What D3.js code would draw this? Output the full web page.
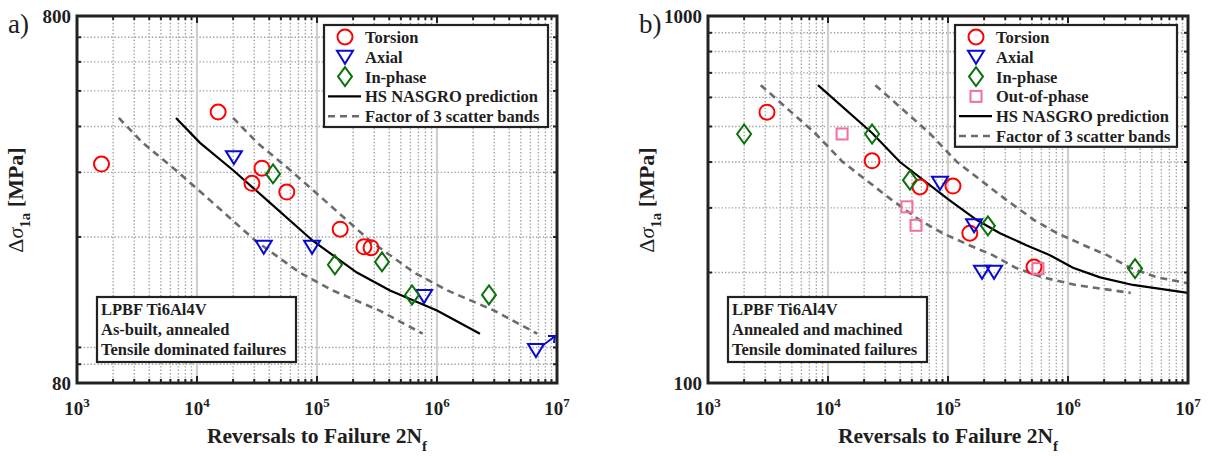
<!DOCTYPE html>
<html>
<head>
<meta charset="utf-8">
<script src="https://cdn.jsdelivr.net/npm/d3@7"></script>
<style>
body{margin:0;background:#fff}
text{font-family:"Liberation Serif","Times New Roman",serif;font-weight:bold;fill:#1e1e1e}
</style>
</head>
<body>
<svg id="chart" width="1214" height="456"></svg>
<script>
// ---- panel a) as-built, annealed ----
var aTorsionN=[1600,15000,28700,34800,56000,156000,246000,282000]
var aTorsionS=[316,438,280,308,265,210,188,187]
var aAxialN=[20300,36000,91000,780000,6680000]
var aAxialS=[330,188,188,138,98.4]
var aInphaseN=[43000,141000,348000,619000,2710000]
var aInphaseS=[297,168,171,139,139]
var aNasgroN=[6680,10600,20000,38300,92700,215000,406000,1000000,2280000]
var aNasgroS=[422,361,304,252,195,160,143,126,109]
var aBandLoN=[2230,3530,6670,12800,30900,71700,135000,333000,760000]
var aBandHiN=[20000,31800,60000,115000,278000,645000,1220000,3000000,6840000]
var aYTicks=[80,800]
var aNote=["LPBF Ti6Al4V","As-built, annealed","Tensile dominated failures"]

// ---- panel b) annealed and machined ----
var bTorsionN=[3100,23300,58400,110000,152000,521000]
var bTorsionS=[547,403,342,344,256,207]
var bAxialN=[85800,165000,192000,242000]
var bAxialS=[351,269,201,201]
var bInphaseN=[2000,23300,48200,215000,3620000]
var bInphaseS=[477,477,357,268,205]
var bOutphaseN=[13100,45500,54100,562000]
var bOutphaseS=[477,302,269,205]
var bNasgroN=[8250,23300,39800,100000,174000,271000,455000,708000,1100000,1850000,3480000,10000000]
var bNasgroS=[648,480,400,317,278,256,237,223,206,194,185,176]
var bBandLoN=[2750,7770,13300,33300,58000,90300,152000,236000,367000,617000,1160000,3330000]
var bBandHiN=[24800,69900,119000,300000,522000,813000,1370000,2120000,3300000,5550000,10000000]
var bBandHiS=[648,480,400,317,278,256,237,223,206,194,187]
var bYTicks=[100,1000]
var bNote=["LPBF Ti6Al4V","Annealed and machined","Tensile dominated failures"]

var xExp=[3,4,5,6,7]
var seriesNames=["Torsion","Axial","In-phase","Out-of-phase","HS NASGRO prediction","Factor of 3 scatter bands"]

var RED="#ff0000",BLUE="#0a0ad0",GREEN="#0b720b",PINK="#f26fa3"

var svg=d3.select("#chart")

function zip(n,s){return n.map((v,i)=>({n:v,s:s[i]}))}

function marker(g,type,color){
  if(type=="circle") g.append("circle").attr("r",7.5)
  else if(type=="tri") g.append("path").attr("d","M-8,-6L8,-6L0,7Z")
  else if(type=="dia") g.append("path").attr("d","M0,-9.5L7,0L0,9.5L-7,0Z")
  else if(type=="sq") g.append("rect").attr("x",-5.5).attr("y",-5.5).attr("width",11).attr("height",11)
  g.selectAll("*").attr("fill","none").attr("stroke",color).attr("stroke-width",2)
}

function panel(o){
  var x=d3.scaleLog().domain([1e3,1e7]).range([o.x0,o.x1])
  var y=d3.scaleLog().domain(o.ydom).range([o.y1,o.y0])
  var g=svg.append("g")
  var clipId="clip"+o.tag
  g.append("clipPath").attr("id",clipId).append("rect")
    .attr("x",o.x0).attr("y",o.y0).attr("width",o.x1-o.x0).attr("height",o.y1-o.y0)

  // grid
  var xt=x.ticks().filter(v=>v>1e3&&v<1e7)
  var major=xt.filter(v=>Math.abs(Math.log10(v)-Math.round(Math.log10(v)))<1e-9)
  var minor=xt.filter(v=>major.indexOf(v)<0)
  var yt=y.ticks().filter(v=>v>o.ydom[0]&&v<o.ydom[1])
  g.selectAll(".gx").data(minor).enter().append("line")
    .attr("x1",d=>x(d)).attr("x2",d=>x(d)).attr("y1",o.y0).attr("y2",o.y1)
    .attr("stroke","#a2a2a2").attr("stroke-width",1.4).attr("stroke-dasharray","1.4,2")
  g.selectAll(".gy").data(yt).enter().append("line")
    .attr("y1",d=>y(d)).attr("y2",d=>y(d)).attr("x1",o.x0).attr("x2",o.x1)
    .attr("stroke","#a2a2a2").attr("stroke-width",1.4).attr("stroke-dasharray","1.4,2")
  g.selectAll(".gm").data(major).enter().append("line")
    .attr("x1",d=>x(d)).attr("x2",d=>x(d)).attr("y1",o.y0).attr("y2",o.y1)
    .attr("stroke","#cfcfcf").attr("stroke-width",2.2)

  // ticks (inward)
  var tk=g.append("g").attr("stroke","#222").attr("stroke-width",2)
  xt.forEach(function(v){
    var L=major.indexOf(v)>=0?7:4
    tk.append("line").attr("x1",x(v)).attr("x2",x(v)).attr("y1",o.y1).attr("y2",o.y1-L)
    tk.append("line").attr("x1",x(v)).attr("x2",x(v)).attr("y1",o.y0).attr("y2",o.y0+L)
  })
  yt.forEach(function(v){
    tk.append("line").attr("y1",y(v)).attr("y2",y(v)).attr("x1",o.x0).attr("x2",o.x0+4)
    tk.append("line").attr("y1",y(v)).attr("y2",y(v)).attr("x1",o.x1).attr("x2",o.x1-4)
  })

  // curves
  var line=d3.line().x(d=>x(d.n)).y(d=>y(d.s))
  var cg=g.append("g").attr("clip-path","url(#"+clipId+")")
  cg.append("path").datum(zip(o.lo,o.nasS)).attr("d",line)
    .attr("fill","none").attr("stroke","#6b6b6b").attr("stroke-width",2.6).attr("stroke-dasharray","7,5")
  cg.append("path").datum(zip(o.hi,o.hiS||o.nasS)).attr("d",line)
    .attr("fill","none").attr("stroke","#6b6b6b").attr("stroke-width",2.6).attr("stroke-dasharray","7,5")
  cg.append("path").datum(zip(o.nasN,o.nasS)).attr("d",line)
    .attr("fill","none").attr("stroke","#000").attr("stroke-width",2.2)

  // points
  o.series.forEach(function(s){
    zip(s.n,s.s).forEach(function(d){
      var m=g.append("g").attr("transform","translate("+x(d.n)+","+y(d.s)+")")
      marker(m,s.type,s.color)
    })
  })
  if(o.runout){
    var r=o.runout, px=x(r.n), py=y(r.s)
    g.append("line").attr("x1",px+6).attr("y1",py-4).attr("x2",px+18).attr("y2",py-13)
      .attr("stroke",BLUE).attr("stroke-width",2)
    g.append("path").attr("d","M"+(px+12)+","+(py-14)+"L"+(px+19)+","+(py-14)+"L"+(px+18)+","+(py-7))
      .attr("fill","none").attr("stroke",BLUE).attr("stroke-width",2)
  }

  // frame
  g.append("rect").attr("x",o.x0).attr("y",o.y0).attr("width",o.x1-o.x0).attr("height",o.y1-o.y0)
    .attr("fill","none").attr("stroke","#222").attr("stroke-width",3)

  // tick labels
  xExp.forEach(function(e){
    var t=g.append("text").attr("x",x(Math.pow(10,e))).attr("y",o.y1+32)
      .attr("text-anchor","middle").style("font-size","19px")
    t.append("tspan").text("10")
    t.append("tspan").text(e).attr("dy",-8).style("font-size","13px")
  })
  o.yticks.forEach(function(v){
    g.append("text").attr("x",o.x0-6).attr("y",y(v)+7).attr("text-anchor","end")
      .style("font-size","19px").text(v)
  })

  // axis labels
  var xl=g.append("text").attr("x",(o.x0+o.x1)/2).attr("y",443).attr("text-anchor","middle")
    .style("font-size","21.5px")
  xl.append("tspan").text("Reversals to Failure 2N")
  xl.append("tspan").text("f").attr("dy",8).style("font-size","15px")
  var yl=g.append("text").attr("transform","translate("+(o.x0-54)+",200) rotate(-90)")
    .attr("text-anchor","middle").style("font-size","22px")
  yl.append("tspan").text("Δ").style("font-weight","normal")
  yl.append("tspan").text("σ").style("font-style","italic").style("font-weight","normal")
  yl.append("tspan").text("1a").attr("dy",7).style("font-size","15px")
  yl.append("tspan").text(" [MPa]").attr("dy",-7)

  g.append("text").attr("x",o.x0-69).attr("y",33).style("font-size","27px")
    .style("font-weight","normal").text(o.tag+")")

  // legend
  var lx=o.x0+247, ly=o.y0+9
  var items=o.legend
  var lh=items.length*19.8+3
  g.append("rect").attr("x",lx).attr("y",ly).attr("width",o.legW).attr("height",lh)
    .attr("fill","#fff").attr("stroke","#222").attr("stroke-width",2.2)
  items.forEach(function(it,i){
    var cy=ly+12+i*19.8
    if(it.type=="solid"||it.type=="dash"){
      g.append("line").attr("x1",lx+4).attr("x2",lx+37).attr("y1",cy).attr("y2",cy)
        .attr("stroke",it.type=="solid"?"#000":"#6b6b6b").attr("stroke-width",it.type=="solid"?2.2:2.6)
        .attr("stroke-dasharray",it.type=="solid"?null:"7,5")
    } else {
      var m=g.append("g").attr("transform","translate("+(lx+21)+","+cy+")")
      marker(m,it.type,it.color)
    }
    g.append("text").attr("x",lx+41).attr("y",cy+6).style("font-size","16.5px").text(it.name)
  })

  // note box
  var nx=o.x0+20, ny=297
  g.append("rect").attr("x",nx).attr("y",ny).attr("width",199).attr("height",65)
    .attr("fill","#fff").attr("stroke","#222").attr("stroke-width",2.2)
  o.note.forEach(function(s,i){
    g.append("text").attr("x",nx+4).attr("y",ny+18+i*20).style("font-size","16.5px").text(s)
  })
}

panel({tag:"a",x0:77,x1:557,y0:16,y1:383,ydom:[80,800],yticks:aYTicks,
  nasN:aNasgroN,nasS:aNasgroS,lo:aBandLoN,hi:aBandHiN,
  series:[{type:"circle",color:RED,n:aTorsionN,s:aTorsionS},
          {type:"tri",color:BLUE,n:aAxialN,s:aAxialS},
          {type:"dia",color:GREEN,n:aInphaseN,s:aInphaseS}],
  runout:{n:aAxialN[4],s:aAxialS[4]},
  legW:224,
  legend:[{name:seriesNames[0],type:"circle",color:RED},{name:seriesNames[1],type:"tri",color:BLUE},
          {name:seriesNames[2],type:"dia",color:GREEN},{name:seriesNames[4],type:"solid"},
          {name:seriesNames[5],type:"dash"}],
  note:aNote})

panel({tag:"b",x0:708,x1:1188,y0:16,y1:383,ydom:[100,1000],yticks:bYTicks,
  nasN:bNasgroN,nasS:bNasgroS,lo:bBandLoN,hi:bBandHiN,hiS:bBandHiS,
  series:[{type:"circle",color:RED,n:bTorsionN,s:bTorsionS},
          {type:"tri",color:BLUE,n:bAxialN,s:bAxialS},
          {type:"dia",color:GREEN,n:bInphaseN,s:bInphaseS},
          {type:"sq",color:PINK,n:bOutphaseN,s:bOutphaseS}],
  legW:222,
  legend:[{name:seriesNames[0],type:"circle",color:RED},{name:seriesNames[1],type:"tri",color:BLUE},
          {name:seriesNames[2],type:"dia",color:GREEN},{name:seriesNames[3],type:"sq",color:PINK},
          {name:seriesNames[4],type:"solid"},{name:seriesNames[5],type:"dash"}],
  note:bNote})
</script>
</body>
</html>
